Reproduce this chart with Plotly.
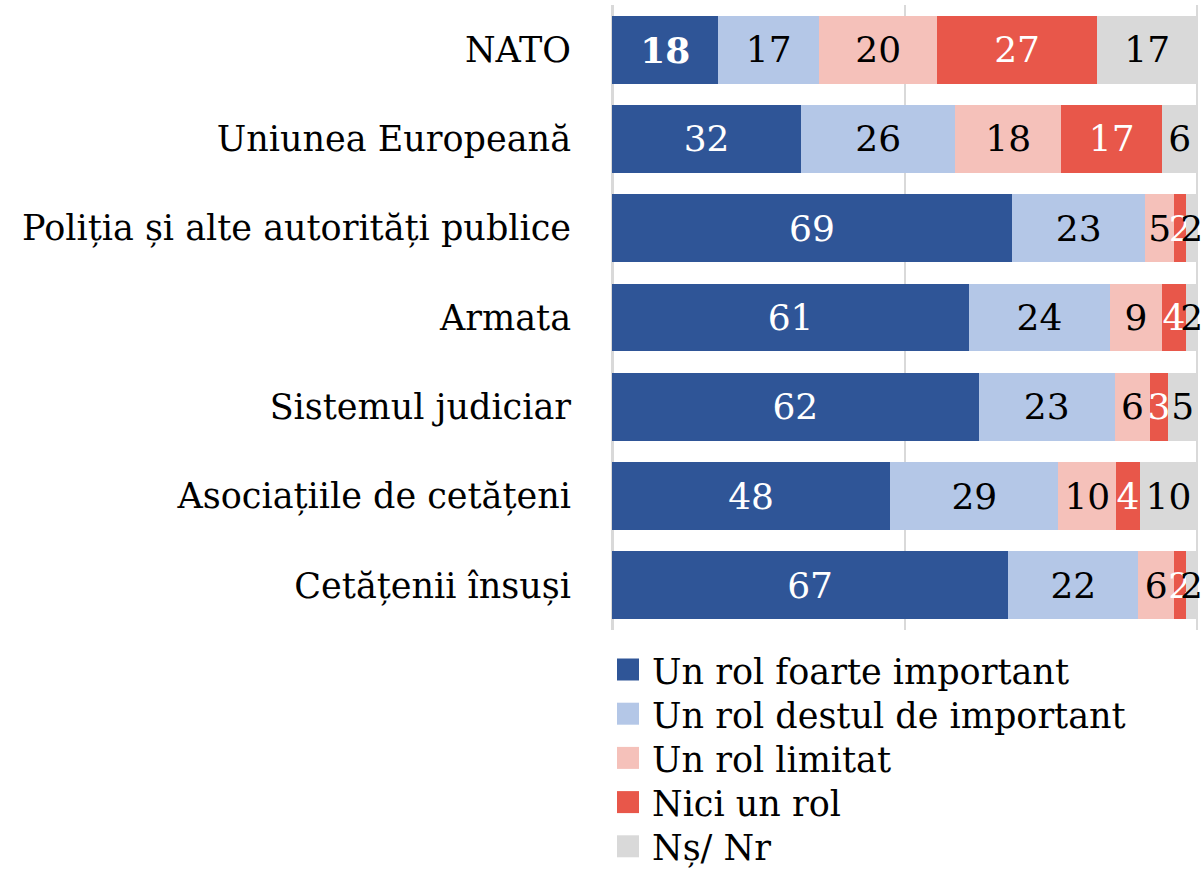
import plotly.graph_objects as go

categories = ["NATO", "Uniunea Europeană", "Poliția și alte autorități publice",
              "Armata", "Sistemul judiciar", "Asociațiile de cetățeni", "Cetățenii însuși"]
series_names = ["Un rol foarte important", "Un rol destul de important",
                "Un rol limitat", "Nici un rol", "Nș/ Nr"]
foarte = [18, 32, 69, 61, 62, 48, 67]
destul = [17, 26, 23, 24, 23, 29, 22]
limitat = [20, 18, 5, 9, 6, 10, 6]
nici = [27, 17, 2, 4, 3, 4, 2]
nsnr = [17, 6, 2, 2, 5, 10, 2]

values = [foarte, destul, limitat, nici, nsnr]
colors = ["#2F5597", "#B4C7E7", "#F5C1BA", "#E8574A", "#D9D9D9"]
text_colors = ["white", "black", "black", "white", "black"]

FONT = "DejaVu Serif"
LABEL_SIZE = 35
DATA_SIZE = 36
LEGEND_SIZE = 35

W, H = 1202, 870
X_MAX = 100.6            # small headroom so end-of-bar labels are not hidden
PX_PER_100 = 585         # pixels spanned by 0..100
ML, MT, MB = 612, 5, 240
MR = W - ML - round(PX_PER_100 * X_MAX / 100)
PW, PH = W - ML - MR, H - MT - MB


def px_x(px):
    return (px - ML) / PW


def px_y(py):
    return (H - MB - py) / PH


fig = go.Figure()
for i, (name, vals) in enumerate(zip(series_names, values)):
    texts = [str(v) for v in vals]
    if i == 0:
        texts[0] = "<b>" + texts[0] + "</b>"
    fig.add_trace(go.Bar(
        y=categories, x=vals, name=name, orientation="h",
        marker=dict(color=colors[i], line=dict(width=0)),
        text=texts, textposition="inside", insidetextanchor="middle",
        textangle=0, cliponaxis=False,
        textfont=dict(family=FONT, size=DATA_SIZE, color=text_colors[i]),
        hoverinfo="text+y+name", showlegend=False,
    ))

# legend drawn as squares + text below the plot area
shapes, annotations = [], []
LEG_SQ_X0, LEG_SQ = 617, 22
LEG_TEXT_X = 650
LEG_Y0, LEG_PITCH = 669.5, 44.2
for i, name in enumerate(series_names):
    cy = LEG_Y0 + i * LEG_PITCH
    shapes.append(dict(type="rect", xref="paper", yref="paper",
                       x0=px_x(LEG_SQ_X0), x1=px_x(LEG_SQ_X0 + LEG_SQ),
                       y0=px_y(cy + LEG_SQ / 2), y1=px_y(cy - LEG_SQ / 2),
                       fillcolor=colors[i], line=dict(width=0)))
    annotations.append(dict(xref="paper", yref="paper", x=px_x(LEG_TEXT_X),
                            y=px_y(cy + 2), text=name, showarrow=False,
                            xanchor="left", yanchor="middle",
                            font=dict(family=FONT, size=LEGEND_SIZE, color="black")))

fig.update_layout(
    barmode="stack",
    barnorm="percent",
    bargap=0.24,
    width=W, height=H,
    margin=dict(l=ML, r=MR, t=MT, b=MB),
    plot_bgcolor="white", paper_bgcolor="white",
    font=dict(family=FONT, size=LABEL_SIZE, color="black"),
    uniformtext=dict(minsize=DATA_SIZE, mode="show"),
    showlegend=False,
    shapes=shapes, annotations=annotations,
)
fig.update_xaxes(range=[0, X_MAX], tickvals=[0, 50, 100], showticklabels=False,
                 showgrid=True, gridcolor="#D9D9D9", gridwidth=2,
                 zeroline=True, zerolinecolor="#D9D9D9", zerolinewidth=3,
                 showline=False, fixedrange=True)
fig.update_yaxes(type="category", range=[6.5, -0.5], showgrid=False,
                 ticks="", ticklabelstandoff=40, showline=False, fixedrange=True,
                 tickfont=dict(family=FONT, size=LABEL_SIZE, color="black"))

fig.write_html("out.html", config={"displayModeBar": False},
               post_script="document.body.style.margin='0px';")
